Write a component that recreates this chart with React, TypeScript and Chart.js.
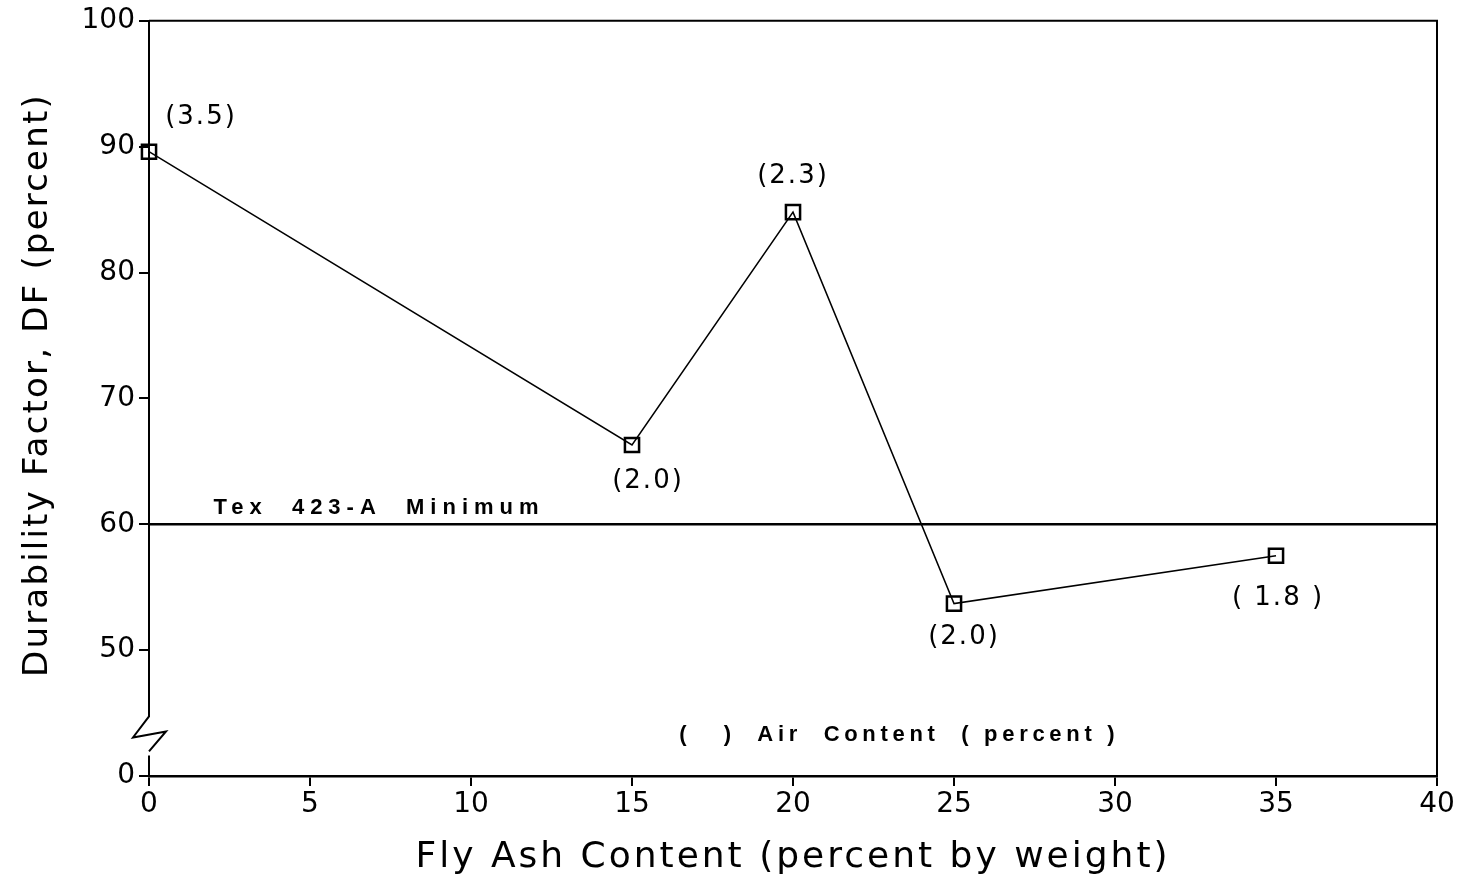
import React, { useEffect, useRef } from 'react';
import { Chart, registerables } from 'chart.js';

Chart.register(...registerables);

// ---- data ----
const flyAshContent = [0, 15, 20, 25, 35];
const durabilityFactor = [89.6, 66.3, 84.8, 53.7, 57.5];
const airContentLabels = ['(3.5)', '(2.0)', '(2.3)', '(2.0)', '( 1.8 )'];
const xTickValues = [0, 5, 10, 15, 20, 25, 30, 35, 40];
const yTickValues = [40, 50, 60, 70, 80, 90, 100];
const yTickLabels = ['0', '50', '60', '70', '80', '90', '100'];
const minimumDF = 60;
const minimumLabel = 'Tex  423-A  Minimum';
const noteLabel = '(   )  Air  Content  ( percent )';
const xAxisTitle = 'Fly Ash Content (percent by weight)';
const yAxisTitle = 'Durability Factor, DF (percent)';

// label offsets (px) relative to each point: [dx, dy]
const labelOffsets: [number, number][] = [
  [52, -34],
  [16, 36],
  [0, -36],
  [10, 34],
  [2, 43],
];

const W = 1462;
const H = 880;

const decorPlugin = {
  id: 'decor',
  afterDraw(chart: any) {
    const { ctx, chartArea, scales } = chart;
    const xs = scales.x;
    const ys = scales.y;
    const { left, right, top, bottom } = chartArea;
    ctx.save();
    ctx.strokeStyle = '#000';
    ctx.fillStyle = '#000';

    // frame top + right
    ctx.lineWidth = 2;
    ctx.beginPath();
    ctx.moveTo(left, top);
    ctx.lineTo(right, top);
    ctx.lineTo(right, bottom);
    ctx.stroke();

    // y axis with break
    const breakC = ys.getPixelForValue(43.3);
    ctx.beginPath();
    ctx.moveTo(left, top);
    ctx.lineTo(left, breakC - 18);
    ctx.lineTo(left - 16, breakC + 3);
    ctx.lineTo(left + 17, breakC - 3);
    ctx.lineTo(left, breakC + 17);
    ctx.moveTo(left, breakC + 21);
    ctx.lineTo(left, bottom);
    ctx.stroke();

    // minimum line
    const yMin = ys.getPixelForValue(minimumDF);
    ctx.lineWidth = 2.5;
    ctx.beginPath();
    ctx.moveTo(left, yMin);
    ctx.lineTo(right, yMin);
    ctx.stroke();

    // minimum label
    (ctx as any).letterSpacing = '6px';
    ctx.font = 'bold 22px "Liberation Sans"';
    ctx.textAlign = 'left';
    ctx.textBaseline = 'alphabetic';
    ctx.fillText(minimumLabel, xs.getPixelForValue(2.0), yMin - 10);

    // note label
    (ctx as any).letterSpacing = '4.7px';
    ctx.textAlign = 'center';
    ctx.textBaseline = 'middle';
    ctx.fillText(noteLabel, xs.getPixelForValue(23.3), ys.getPixelForValue(43.3));

    // point labels
    (ctx as any).letterSpacing = '2px';
    ctx.font = '26px "DejaVu Sans"';
    ctx.textAlign = 'center';
    ctx.textBaseline = 'middle';
    flyAshContent.forEach((x, i) => {
      const px = xs.getPixelForValue(x);
      const py = ys.getPixelForValue(durabilityFactor[i]);
      const [dx, dy] = labelOffsets[i];
      ctx.fillText(airContentLabels[i], px + dx, py + dy);
    });

    // axis titles
    (ctx as any).letterSpacing = '3px';
    ctx.font = '36px "DejaVu Sans"';
    ctx.textAlign = 'center';
    ctx.textBaseline = 'middle';
    ctx.fillText(xAxisTitle, (left + right) / 2, 858);

    ctx.save();
    ctx.translate(38, 385);
    ctx.rotate(-Math.PI / 2);
    (ctx as any).letterSpacing = '2.2px';
    ctx.font = '34px "DejaVu Sans"';
    ctx.fillText(yAxisTitle, 0, 0);
    ctx.restore();

    ctx.restore();
  },
};

export default function App() {
  const ref = useRef<HTMLCanvasElement>(null);
  useEffect(() => {
    document.body.style.margin = '0';
    const canvas = ref.current!;
    const chart = new Chart(canvas, {
      type: 'scatter',
      data: {
        datasets: [
          {
            data: flyAshContent.map((x, i) => ({ x, y: durabilityFactor[i] })),
            showLine: true,
            borderColor: '#000',
            borderWidth: 1.5,
            pointStyle: 'rect',
            pointRadius: 10,
            pointBorderWidth: 2.5,
            pointBackgroundColor: 'rgba(0,0,0,0)',
            pointBorderColor: '#000',
            clip: false as any,
          },
        ],
      },
      options: {
        responsive: false,
        animation: false,
        layout: { padding: { top: 20, right: 25, left: 0, bottom: 0 } },
        plugins: {
          legend: { display: false },
          tooltip: { enabled: false },
          title: { display: false },
        },
        scales: {
          x: {
            type: 'linear',
            position: 'bottom',
            min: 0,
            max: 40,
            afterBuildTicks: (scale: any) => {
              scale.ticks = xTickValues.map((v) => ({ value: v }));
            },
            ticks: {
              color: '#000',
              font: { family: 'DejaVu Sans', size: 28 },
              padding: 2,
              maxRotation: 0,
              callback: (v: any) => String(v),
            },
            grid: {
              drawOnChartArea: false,
              drawTicks: true,
              tickLength: 10,
              color: '#000',
              lineWidth: 2,
            },
            border: { display: true, color: '#000', width: 2.5 },
            afterFit: (scale: any) => {
              scale.height = H - 776;
            },
          },
          y: {
            type: 'linear',
            min: 40,
            max: 100,
            afterBuildTicks: (scale: any) => {
              scale.ticks = yTickValues.map((v) => ({ value: v }));
            },
            ticks: {
              color: '#000',
              font: { family: 'DejaVu Sans', size: 28 },
              padding: 4,
              callback: (v: any) => {
                const i = yTickValues.indexOf(Number(v));
                return i >= 0 ? yTickLabels[i] : '';
              },
            },
            grid: {
              drawOnChartArea: false,
              drawTicks: true,
              tickLength: 10,
              color: '#000',
              lineWidth: 2,
            },
            border: { display: false },
            afterFit: (scale: any) => {
              scale.width = 149;
            },
          },
        },
      },
      plugins: [decorPlugin],
    });
    return () => chart.destroy();
  }, []);
  return (
    <div style={{ position: 'fixed', left: 0, top: 0, width: W, height: H, background: '#fff' }}>
      <canvas ref={ref} width={W} height={H} style={{ width: W, height: H, display: 'block' }} />
    </div>
  );
}
